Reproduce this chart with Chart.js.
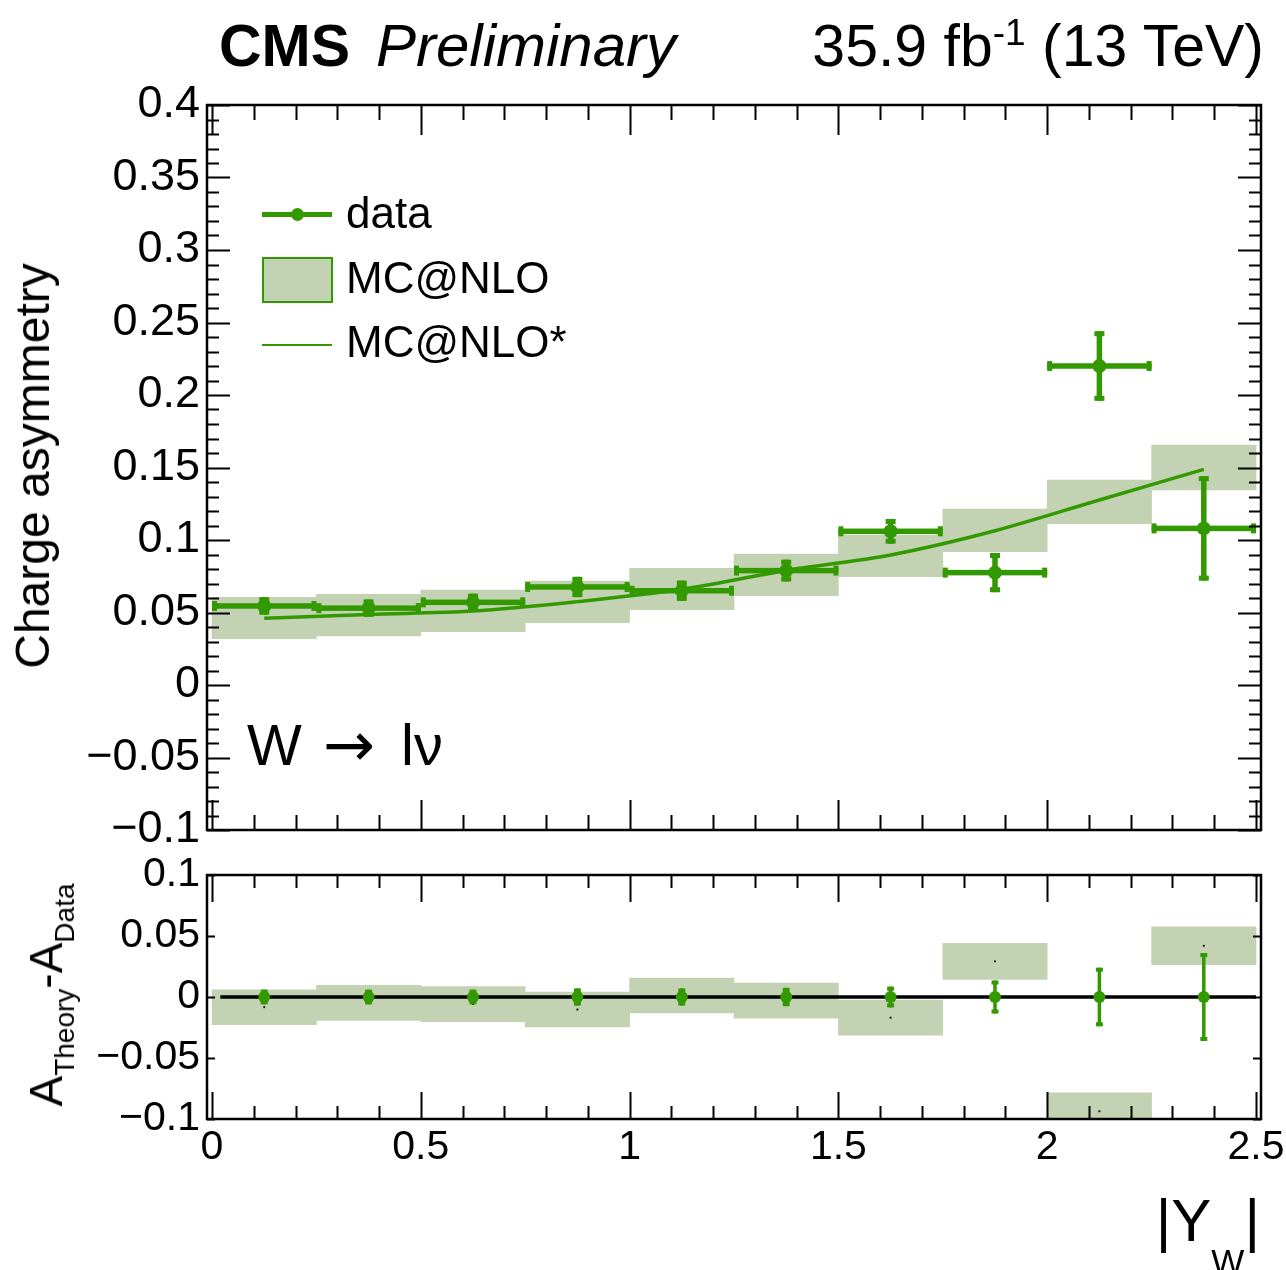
<!DOCTYPE html>
<html>
<head>
<meta charset="utf-8">
<title>W charge asymmetry</title>
<script src="https://cdn.jsdelivr.net/npm/chart.js@4.4.1/dist/chart.umd.min.js"></script>
<style>
  body { margin: 0; background: #fff; overflow: hidden; }
  #wrap { position: relative; width: 1286px; height: 1270px; font-family: "Liberation Sans", Arial, sans-serif; color: #000; }
  canvas { position: absolute; left: 0; }
  .t { position: absolute; white-space: nowrap; line-height: 1; }
  .rot { transform: translate(-50%, -50%) rotate(-90deg); }
  .sw { position: absolute; }
</style>
</head>
<body>
<div id="wrap">
  <canvas id="topChart" width="1286" height="850" style="top:0"></canvas>
  <canvas id="ratioChart" width="1286" height="420" style="top:850px"></canvas>

  <div class="t" style="left:219px; top:17px; font-size:59px; font-weight:bold;">CMS</div>
  <div class="t" style="left:376px; top:16px; font-size:60px; font-style:italic;">Preliminary</div>
  <div class="t" style="right:22px; top:17px; font-size:59px;">35.9 fb<span style="font-size:37px; position:relative; top:-21px;">-1</span> (13 TeV)</div>

  <div class="t rot" style="left:33px; top:466px; font-size:48px;">Charge asymmetry</div>
  <div class="t rot" style="left:46px; top:995px; font-size:46px;">A<span style="font-size:28px; position:relative; top:12px;">Theory</span>-A<span style="font-size:28px; position:relative; top:12px;">Data</span></div>

  <div class="t" style="right:26px; top:1191px; font-size:60px;">|Y<span style="font-size:35px; position:relative; top:33px;">W</span>|</div>

  <div class="t" style="left:247px; top:716px; font-size:58px;">W</div>
  <div class="t" style="left:323px; top:714px; font-size:62px; font-family:'DejaVu Sans';">→</div>
  <div class="t" style="left:401px; top:716px; font-size:58px;">lν</div>

  <!-- legend -->
  <div class="sw" style="left:262px; top:212px; width:70px; height:5px; background:#339900;"></div>
  <div class="sw" style="left:291px; top:208px; width:13px; height:13px; border-radius:50%; background:#339900;"></div>
  <div class="t" style="left:346px; top:191px; font-size:44px;">data</div>
  <div class="sw" style="left:262px; top:257px; width:71px; height:46px; box-sizing:border-box; border:2px solid #339900; background:rgb(196,210,180);"></div>
  <div class="t" style="left:346px; top:256px; font-size:44px;">MC@NLO</div>
  <div class="sw" style="left:262px; top:344px; width:70px; height:2px; background:#339900;"></div>
  <div class="t" style="left:346px; top:320px; font-size:44px;">MC@NLO*</div>
</div>

<script>
// |Y_W| bins (centres, half width 0.125)
const binCenters = [0.125, 0.375, 0.625, 0.875, 1.125, 1.375, 1.625, 1.875, 2.125, 2.375];
const binHalf = 0.125;

// measured charge asymmetry and its error
const dataValues = [0.0545, 0.053, 0.057, 0.0676, 0.065, 0.0789, 0.106, 0.0775, 0.22, 0.108];
const dataErrors = [0.006, 0.006, 0.006, 0.007, 0.007, 0.0075, 0.0085, 0.0135, 0.024, 0.036];

// MC@NLO prediction band (low / high edge)
const mcLow  = [0.0319, 0.0338, 0.0368, 0.043, 0.052, 0.0616, 0.0747, 0.0919, 0.1112, 0.1345];
const mcHigh = [0.0604, 0.0626, 0.0655, 0.0717, 0.0805, 0.0903, 0.1034, 0.1214, 0.1414, 0.1655];

// MC@NLO* curve
const mcStar = [0.046, 0.0487, 0.051, 0.0575, 0.066, 0.079, 0.0897, 0.1064, 0.1276, 0.1487];

// reference line in the ratio panel
const zeroLineX = [0.02, 2.5];

const GREEN = '#339900';
const BAND = 'rgb(196,210,180)';
const FONT = '"Liberation Sans", Arial, sans-serif';

function fmt(v) {
  const s = String(parseFloat(v.toFixed(3)));
  return s.replace('-', '\u2212');
}

// ROOT-like frame: box with inward ticks on all four sides
const rootFrame = {
  id: 'rootFrame',
  afterDatasetsDraw(chart, args, o) {
    const { ctx, chartArea: a, scales: { x, y } } = chart;
    ctx.save();
    ctx.strokeStyle = '#000';
    ctx.lineWidth = 2;
    ctx.beginPath();
    const steps = (min, max, step) => {
      const out = [];
      for (let i = Math.ceil(min / step - 1e-9); i * step <= max + 1e-9; i++) out.push(i * step);
      return out;
    };
    const isMajor = (v, m) => Math.abs(v / m - Math.round(v / m)) < 1e-6;
    steps(x.min, x.max, o.xMinor).forEach(v => {
      const px = Math.round(x.getPixelForValue(v)) + 0.5;
      const len = isMajor(v, o.xMajor) ? o.xMajorLen : o.xMinorLen;
      ctx.moveTo(px, a.bottom); ctx.lineTo(px, a.bottom - len);
      ctx.moveTo(px, a.top); ctx.lineTo(px, a.top + len);
    });
    steps(y.min, y.max, o.yMinor || o.yMajor).forEach(v => {
      const py = Math.round(y.getPixelForValue(v)) + 0.5;
      const len = isMajor(v, o.yMajor) ? o.yMajorLen : o.yMinorLen;
      ctx.moveTo(a.left, py); ctx.lineTo(a.left + len, py);
      ctx.moveTo(a.right, py); ctx.lineTo(a.right - len, py);
    });
    ctx.stroke();
    ctx.lineWidth = 2.5;
    ctx.strokeRect(a.left, a.top, a.right - a.left, a.bottom - a.top);
    ctx.restore();
  }
};

// error bars for datasets carrying errY / errX
const errorBars = {
  id: 'errorBars',
  beforeDatasetDraw(chart, args) {
    const ds = chart.data.datasets[args.index];
    if (!ds.errY) return;
    const { ctx, scales: { x, y } } = chart;
    const lw = ds.errWidth, capL = ds.capLen, capT = ds.capThick;
    ctx.save();
    ctx.fillStyle = GREEN;
    ds.data.forEach((p, i) => {
      const px = x.getPixelForValue(p.x), py = y.getPixelForValue(p.y);
      if (ds.errX) {
        const x0 = x.getPixelForValue(p.x - ds.errX), x1 = x.getPixelForValue(p.x + ds.errX);
        ctx.fillRect(x0, py - lw / 2, x1 - x0, lw);
        ctx.fillRect(x0, py - capL / 2, capT, capL);
        ctx.fillRect(x1 - capT, py - capL / 2, capT, capL);
      }
      const y0 = y.getPixelForValue(p.y - ds.errY[i]), y1 = y.getPixelForValue(p.y + ds.errY[i]);
      ctx.fillRect(px - lw / 2, y1, lw, y0 - y1);
      ctx.fillRect(px - capL / 2, y1, capL, capT);
      ctx.fillRect(px - capL / 2, y0 - capT, capL, capT);
    });
    ctx.restore();
  }
};

function yAxis(min, max, size) {
  return {
    min, max,
    grid: { display: false, drawTicks: false },
    border: { display: false },
    ticks: {
      stepSize: 0.05, autoSkip: false, padding: 7, color: '#000',
      font: { family: FONT, size },
      callback: v => fmt(v)
    },
    afterFit(s) { s.width = 207; s.paddingTop = 0; s.paddingBottom = 0; }
  };
}

const xRange = { min: -0.012, max: 2.512 };

new Chart(document.getElementById('topChart'), {
  type: 'bar',
  data: {
    datasets: [
      {
        type: 'line', label: 'data', order: 1,
        data: binCenters.map((c, i) => ({ x: c, y: dataValues[i] })),
        showLine: false, pointRadius: 7, pointBorderWidth: 0, pointBackgroundColor: GREEN,
        errX: binHalf, errY: dataErrors, errWidth: 5.5, capLen: 10, capThick: 5
      },
      {
        type: 'line', label: 'MC@NLO*', order: 2,
        data: binCenters.map((c, i) => ({ x: c, y: mcStar[i] })),
        borderColor: GREEN, borderWidth: 3.5, pointRadius: 0, cubicInterpolationMode: 'monotone'
      },
      {
        type: 'bar', label: 'MC@NLO', order: 3,
        data: binCenters.map((c, i) => ({ x: c, y: [mcLow[i], mcHigh[i]] })),
        backgroundColor: BAND, borderWidth: 0,
        barPercentage: 1, categoryPercentage: 1, grouped: false
      }
    ]
  },
  options: {
    responsive: false, animation: false, events: [], devicePixelRatio: 1,
    layout: { padding: { left: 0, top: 105, right: 25, bottom: 20 } },
    plugins: {
      legend: { display: false }, tooltip: { enabled: false },
      rootFrame: { xMajor: 0.5, xMinor: 0.1, xMajorLen: 30, xMinorLen: 15, yMajor: 0.05, yMinor: 0.01, yMajorLen: 23, yMinorLen: 12 }
    },
    scales: {
      x: { type: 'linear', display: false, offset: false, ...xRange, ticks: { stepSize: 0.5, includeBounds: false } },
      y: yAxis(-0.1, 0.4, 45)
    }
  },
  plugins: [errorBars, rootFrame]
});

const diffCenter = binCenters.map((c, i) => (mcLow[i] + mcHigh[i]) / 2 - dataValues[i]);

new Chart(document.getElementById('ratioChart'), {
  type: 'bar',
  data: {
    datasets: [
      {
        type: 'line', label: 'data', order: 1,
        data: binCenters.map(c => ({ x: c, y: 0 })),
        showLine: false, pointRadius: 6, pointBorderWidth: 0, pointBackgroundColor: GREEN,
        errY: dataErrors, errWidth: 3.5, capLen: 7, capThick: 4
      },
      {
        type: 'line', label: 'zero', order: 2,
        data: zeroLineX.map(v => ({ x: v, y: 0 })),
        borderColor: '#000', borderWidth: 3.5, pointRadius: 0
      },
      {
        type: 'line', label: 'theory - data', order: 3,
        data: binCenters.map((c, i) => ({ x: c, y: diffCenter[i] })),
        showLine: false, pointRadius: 1.3, pointStyle: 'rect', pointBorderWidth: 0, pointBackgroundColor: '#000'
      },
      {
        type: 'bar', label: 'MC@NLO', order: 4,
        data: binCenters.map((c, i) => ({ x: c, y: [mcLow[i] - dataValues[i], mcHigh[i] - dataValues[i]] })),
        backgroundColor: BAND, borderWidth: 0,
        barPercentage: 1, categoryPercentage: 1, grouped: false
      }
    ]
  },
  options: {
    responsive: false, animation: false, events: [], devicePixelRatio: 1,
    layout: { padding: { left: 0, top: 25, right: 25, bottom: 0 } },
    plugins: {
      legend: { display: false }, tooltip: { enabled: false },
      rootFrame: { xMajor: 0.5, xMinor: 0.1, xMajorLen: 27, xMinorLen: 13, yMajor: 0.05, yMinor: null, yMajorLen: 8, yMinorLen: 8 }
    },
    scales: {
      x: {
        type: 'linear', offset: false, ...xRange,
        grid: { display: false, drawTicks: false },
        border: { display: false },
        ticks: {
          stepSize: 0.5, includeBounds: false, autoSkip: false, maxRotation: 0, padding: 4, color: '#000',
          font: { family: FONT, size: 41 },
          callback: v => fmt(v)
        },
        afterFit(s) { s.height = 151; s.paddingLeft = 0; s.paddingRight = 0; }
      },
      y: yAxis(-0.1, 0.1, 41)
    }
  },
  plugins: [errorBars, rootFrame]
});
</script>
</body>
</html>
